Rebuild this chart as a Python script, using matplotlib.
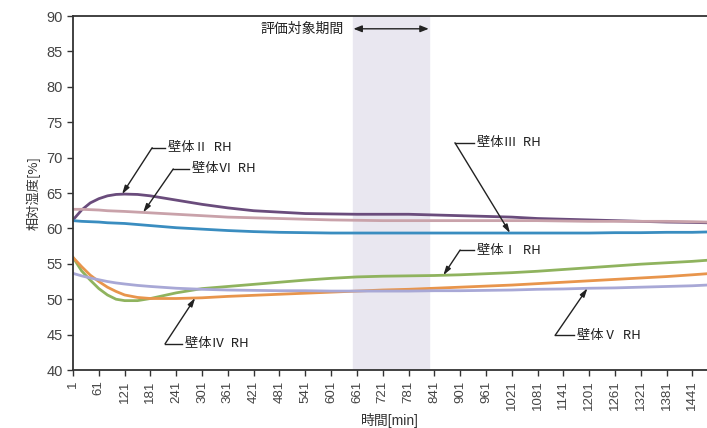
import numpy as np
from matplotlib import pyplot as plt

plt.rcParams['font.family'] = ['Liberation Sans', 'Noto Sans CJK JP']

# Data
t = [1, 21, 41, 61, 81, 101, 121, 151, 181, 241, 301, 361, 421, 481, 541, 601,
     661, 721, 781, 841, 901, 961, 1021, 1081, 1141, 1201, 1261, 1321, 1381, 1441, 1475]
rh_1 = [55.9, 54.0, 52.7, 51.5, 50.6, 50.0, 49.8, 49.8, 50.1, 50.9, 51.5, 51.8, 52.1, 52.4, 52.7, 52.95,
        53.15, 53.25, 53.3, 53.35, 53.45, 53.6, 53.75, 53.95, 54.2, 54.45, 54.7, 54.95, 55.15, 55.35, 55.5]
rh_2 = [61.2, 62.6, 63.6, 64.2, 64.6, 64.8, 64.85, 64.8, 64.6, 64.0, 63.4, 62.9, 62.5, 62.3, 62.1, 62.05,
        62.0, 62.0, 62.0, 61.9, 61.8, 61.7, 61.6, 61.4, 61.3, 61.2, 61.1, 61.0, 60.9, 60.85, 60.8]
rh_3 = [61.1, 61.0, 60.95, 60.9, 60.8, 60.75, 60.7, 60.55, 60.4, 60.1, 59.9, 59.7, 59.55, 59.45, 59.4, 59.35,
        59.35, 59.35, 59.35, 59.35, 59.35, 59.35, 59.35, 59.35, 59.35, 59.35, 59.4, 59.4, 59.45, 59.45, 59.5]
rh_4 = [55.9, 54.6, 53.4, 52.5, 51.7, 51.1, 50.6, 50.25, 50.1, 50.1, 50.2, 50.4, 50.55, 50.7, 50.85, 51.0,
        51.15, 51.3, 51.4, 51.55, 51.7, 51.85, 52.0, 52.2, 52.4, 52.6, 52.8, 53.0, 53.2, 53.45, 53.6]
rh_5 = [53.65, 53.3, 53.0, 52.75, 52.5, 52.3, 52.15, 51.95, 51.8, 51.55, 51.4, 51.3, 51.25, 51.2, 51.2, 51.15,
        51.15, 51.15, 51.15, 51.2, 51.2, 51.25, 51.3, 51.4, 51.45, 51.55, 51.6, 51.7, 51.8, 51.9, 52.0]
rh_6 = [62.7, 62.7, 62.65, 62.6, 62.5, 62.45, 62.4, 62.3, 62.2, 62.0, 61.8, 61.6, 61.5, 61.4, 61.3, 61.2,
        61.15, 61.1, 61.1, 61.1, 61.1, 61.1, 61.1, 61.1, 61.05, 61.0, 61.0, 61.0, 61.0, 60.95, 60.9]

xticks = list(range(1, 1442, 60))
period = (651, 828)

# series: values, colour, label, text pos, elbow x, target x
series = [
    (rh_1, '#8fb35e', '壁体Ⅰ  RH', (941, 56.95), 901, 862),
    (rh_2, '#6a4c7c', '壁体Ⅱ  RH', (222, 71.4), 185, 115),
    (rh_3, '#3a8dc0', '壁体Ⅲ  RH', (941, 72.1), 889, 1017),
    (rh_4, '#e8954c', '壁体Ⅳ  RH', (262, 43.7), 215, 285),
    (rh_5, '#a8a8d6', '壁体Ⅴ  RH', (1173, 44.9), 1122, 1197),
    (rh_6, '#c9a2aa', '壁体Ⅵ  RH', (278, 68.4), 234, 164),
]

fig = plt.figure(figsize=(7.07, 4.28), dpi=100)
ax = fig.add_axes([0.1033, 0.1355, 0.8967, 0.827])

ax.axvspan(*period, color='#e9e7f0', zorder=0)

for vals, col, lab, txt, ex, tx in series:
    ax.plot(t, vals, color=col, lw=2, zorder=2)

for vals, col, lab, txt, ex, tx in series:
    ty = np.interp(tx, t, vals)
    ax.text(txt[0], txt[1], lab, fontsize=9.5, color='#222', va='center', ha='left',
            family=['Noto Sans CJK JP'])
    ax.plot([ex, txt[0] - 8], [txt[1], txt[1]], color='#222', lw=1)
    ax.annotate('', xy=(tx, ty), xytext=(ex, txt[1]),
                arrowprops=dict(arrowstyle='-|>,head_length=0.5,head_width=0.15',
                                color='#222', lw=1, shrinkA=0, shrinkB=0))

# evaluation period marker
ax.annotate('', xy=(period[0] + 2, 88.2), xytext=(period[1], 88.2),
            arrowprops=dict(arrowstyle='<|-|>,head_length=0.5,head_width=0.2',
                            color='#222', lw=1, shrinkA=0, shrinkB=0))
ax.text(period[0] - 20, 88.2, '評価対象期間', fontsize=10, color='#222',
        ha='right', va='center', family=['Noto Sans CJK JP'])

ax.set_xlim(1, 1475)
ax.set_ylim(40, 90)
ax.set_xticks(xticks)
ax.set_xticklabels([str(v) for v in xticks], rotation=90)
ax.set_yticks(range(40, 91, 5))
ax.tick_params(axis='both', direction='out', length=4, width=1, colors='#333',
               labelcolor='#444')
ax.tick_params(axis='y', labelsize=10.5)
ax.tick_params(axis='x', labelsize=9.5)
for s in ['left', 'bottom', 'top']:
    ax.spines[s].set_color('#333')
    ax.spines[s].set_linewidth(1.3)
ax.spines['right'].set_visible(False)

ax.set_ylabel('相対湿度[%]', fontsize=9.5, color='#333', labelpad=4,
              family=['Noto Sans CJK JP'])
ax.set_xlabel('時間[min]', fontsize=10, color='#333', labelpad=2)

fig.savefig('out.png', dpi=100)
